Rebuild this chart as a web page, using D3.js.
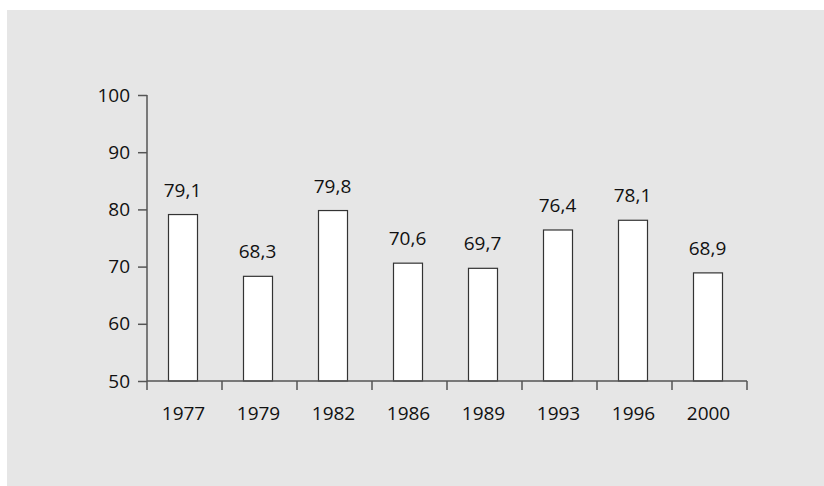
<!DOCTYPE html>
<html>
<head>
<meta charset="utf-8">
<script src="https://cdn.jsdelivr.net/npm/d3@7"></script>
<style>
  body { margin: 0; background: #fff; }
  svg text { font-family: "Open Sans", sans-serif; fill: #111; }
</style>
</head>
<body>
<div class="chart"></div>
<script>
// data
var years = ["1977", "1979", "1982", "1986", "1989", "1993", "1996", "2000"];
var values = [79.1, 68.3, 79.8, 70.6, 69.7, 76.4, 78.1, 68.9];
var yTicks = [50, 60, 70, 80, 90, 100];

var width = 824, height = 486;
var margin = { left: 147, right: 77, top: 95, bottom: 105 };
var fontSize = "19px";

var svg = d3.select(".chart")
  .append("svg")
    .attr("width", width)
    .attr("height", height);

// grey panel
svg.append("rect")
  .attr("x", 7).attr("y", 10)
  .attr("width", width - 7).attr("height", height - 10)
  .attr("fill", "#e6e6e6");

var band = d3.scaleBand()
  .domain(years)
  .range([margin.left, width - margin.right]);

var y = d3.scaleLinear()
  .domain([50, 100])
  .range([height - margin.bottom, margin.top]);

var data = years.map(function(d, i) { return { year: d, value: values[i] }; });

// bars
svg.selectAll("rect.bar")
  .data(data)
  .enter()
  .append("rect")
    .attr("class", "bar")
    .attr("x", function(d) { return band(d.year) + band.bandwidth() / 2 - 16; })
    .attr("y", function(d) { return y(d.value); })
    .attr("width", 29)
    .attr("height", function(d) { return y(50) - y(d.value); })
    .attr("fill", "#fff")
    .attr("stroke", "#333")
    .attr("stroke-width", 1.2);

// value labels
svg.selectAll("text.val")
  .data(data)
  .enter()
  .append("text")
    .attr("class", "val")
    .attr("x", function(d) { return band(d.year) + band.bandwidth() / 2 - 2; })
    .attr("y", function(d) { return y(d.value) - 18; })
    .attr("text-anchor", "middle")
    .attr("font-size", fontSize)
    .text(function(d) { return String(d.value).replace(".", ","); });

// y axis
var yAxis = d3.axisLeft(y).tickValues(yTicks).tickSize(9).tickPadding(8);
var yAxisGroup = svg.append("g")
  .attr("transform", "translate(" + margin.left + ",0)")
  .call(yAxis);
yAxisGroup.select(".domain").attr("stroke", "#555").attr("stroke-width", 1.5)
  .attr("d", "M0," + y(50) + "V" + y(100));
yAxisGroup.selectAll(".tick line").attr("stroke", "#555").attr("stroke-width", 1.5);
yAxisGroup.selectAll(".tick text").attr("font-size", fontSize).attr("fill", "#111")
  .style("font-family", "Open Sans, sans-serif");

// x axis: ticks at band edges
var xAxisGroup = svg.append("g")
  .attr("transform", "translate(0," + y(50) + ")");
xAxisGroup.append("line")
  .attr("x1", margin.left).attr("x2", width - margin.right)
  .attr("stroke", "#555").attr("stroke-width", 1.5);
var edges = years.map(function(d) { return band(d); }).concat([width - margin.right]);
xAxisGroup.selectAll("line.edge")
  .data(edges)
  .enter()
  .append("line")
    .attr("class", "edge")
    .attr("x1", function(d) { return d; }).attr("x2", function(d) { return d; })
    .attr("y1", 0).attr("y2", 9)
    .attr("stroke", "#555").attr("stroke-width", 1.5);
xAxisGroup.selectAll("text")
  .data(years)
  .enter()
  .append("text")
    .attr("x", function(d) { return band(d) + band.bandwidth() / 2 - 1; })
    .attr("y", 39)
    .attr("text-anchor", "middle")
    .attr("font-size", fontSize)
    .text(function(d) { return d; });
</script>
</body>
</html>
